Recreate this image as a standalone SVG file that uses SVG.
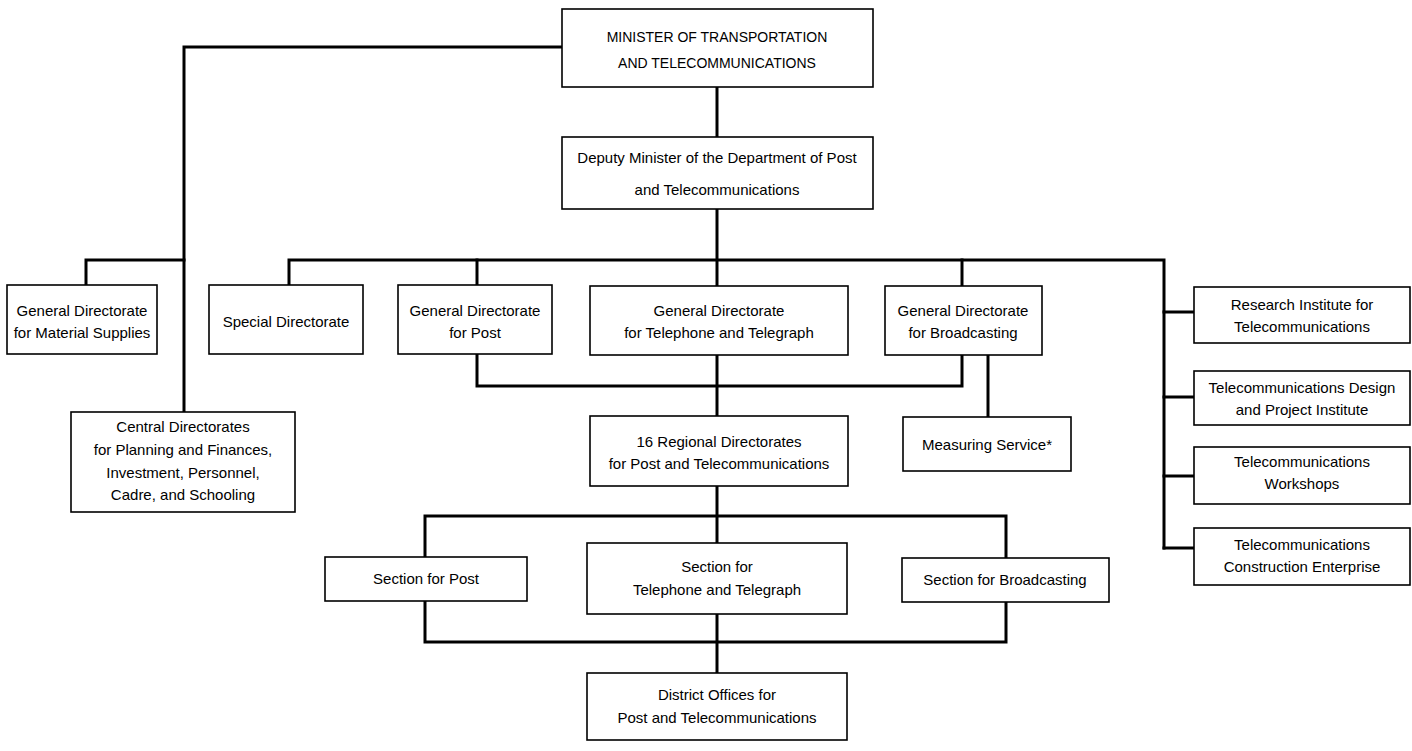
<svg xmlns="http://www.w3.org/2000/svg" width="1412" height="751" viewBox="0 0 1412 751">
<style>
.box{fill:#fff;stroke:#000;stroke-width:1.6}
.t{font-family:"Liberation Sans",Arial,sans-serif;font-size:15px;fill:#000;text-anchor:middle}
.cap{font-size:14px}
.c{fill:none;stroke:#000;stroke-width:3;stroke-linejoin:miter;stroke-linecap:square}
</style>
<rect width="1412" height="751" fill="#fff"/>
<g id="connectors">
<path class="c" d="M562,47 H184 V412"/>
<path class="c" d="M184,260 H86 V285"/>
<path class="c" d="M717,87 V137"/>
<path class="c" d="M717,209 V286"/>
<path class="c" d="M289,285 V260 H1164 V548"/>
<path class="c" d="M477,260 V285"/>
<path class="c" d="M962,260 V286"/>
<path class="c" d="M1164,312 H1194 M1164,397 H1194 M1164,476 H1194 M1164,548 H1194"/>
<path class="c" d="M477,354 V386 H962 V355"/>
<path class="c" d="M717,355 V416"/>
<path class="c" d="M988,355 V417"/>
<path class="c" d="M717,486 V543"/>
<path class="c" d="M425,557 V516 H1006 V558"/>
<path class="c" d="M425,601 V642 H1006 V602"/>
<path class="c" d="M717,614 V673"/>
</g>
<g id="minister">
<rect class="box" x="562" y="9" width="311" height="78"/>
<text class="t cap" x="717" y="42">MINISTER OF TRANSPORTATION</text>
<text class="t cap" x="717" y="68">AND TELECOMMUNICATIONS</text>
</g>
<g id="deputy">
<rect class="box" x="562" y="137" width="311" height="72"/>
<text class="t" x="717" y="163">Deputy Minister of the Department of Post</text>
<text class="t" x="717" y="195">and Telecommunications</text>
</g>
<g id="material">
<rect class="box" x="7" y="285" width="150" height="69"/>
<text class="t" x="82" y="316">General Directorate</text>
<text class="t" x="82" y="338">for Material Supplies</text>
</g>
<g id="special">
<rect class="box" x="209" y="285" width="154" height="69"/>
<text class="t" x="286" y="327">Special Directorate</text>
</g>
<g id="post">
<rect class="box" x="398" y="285" width="154" height="69"/>
<text class="t" x="475" y="316">General Directorate</text>
<text class="t" x="475" y="338">for Post</text>
</g>
<g id="telephone">
<rect class="box" x="590" y="286" width="258" height="69"/>
<text class="t" x="719" y="316">General Directorate</text>
<text class="t" x="719" y="338">for Telephone and Telegraph</text>
</g>
<g id="broadcasting">
<rect class="box" x="885" y="286" width="157" height="69"/>
<text class="t" x="963" y="316">General Directorate</text>
<text class="t" x="963" y="338">for Broadcasting</text>
</g>
<g id="measuring">
<rect class="box" x="903" y="417" width="168" height="54"/>
<text class="t" x="987" y="450">Measuring Service*</text>
</g>
<g id="regional">
<rect class="box" x="590" y="416" width="258" height="70"/>
<text class="t" x="719" y="447">16 Regional Directorates</text>
<text class="t" x="719" y="469">for Post and Telecommunications</text>
</g>
<g id="central">
<rect class="box" x="71" y="412" width="224" height="100"/>
<text class="t" x="183" y="432">Central Directorates</text>
<text class="t" x="183" y="455">for Planning and Finances,</text>
<text class="t" x="183" y="478">Investment, Personnel,</text>
<text class="t" x="183" y="500">Cadre, and Schooling</text>
</g>
<g id="research">
<rect class="box" x="1194" y="287" width="216" height="56"/>
<text class="t" x="1302" y="310">Research Institute for</text>
<text class="t" x="1302" y="332">Telecommunications</text>
</g>
<g id="design">
<rect class="box" x="1194" y="371" width="216" height="54"/>
<text class="t" x="1302" y="393">Telecommunications Design</text>
<text class="t" x="1302" y="415">and Project Institute</text>
</g>
<g id="workshops">
<rect class="box" x="1194" y="447" width="216" height="57"/>
<text class="t" x="1302" y="467">Telecommunications</text>
<text class="t" x="1302" y="489">Workshops</text>
</g>
<g id="construction">
<rect class="box" x="1194" y="528" width="216" height="57"/>
<text class="t" x="1302" y="550">Telecommunications</text>
<text class="t" x="1302" y="572">Construction Enterprise</text>
</g>
<g id="sec-post">
<rect class="box" x="325" y="557" width="202" height="44"/>
<text class="t" x="426" y="584">Section for Post</text>
</g>
<g id="sec-telephone">
<rect class="box" x="587" y="543" width="260" height="71"/>
<text class="t" x="717" y="572">Section for</text>
<text class="t" x="717" y="595">Telephone and Telegraph</text>
</g>
<g id="sec-broadcasting">
<rect class="box" x="902" y="558" width="207" height="44"/>
<text class="t" x="1005" y="585">Section for Broadcasting</text>
</g>
<g id="district">
<rect class="box" x="587" y="673" width="260" height="67"/>
<text class="t" x="717" y="700">District Offices for</text>
<text class="t" x="717" y="723">Post and Telecommunications</text>
</g>
</svg>
